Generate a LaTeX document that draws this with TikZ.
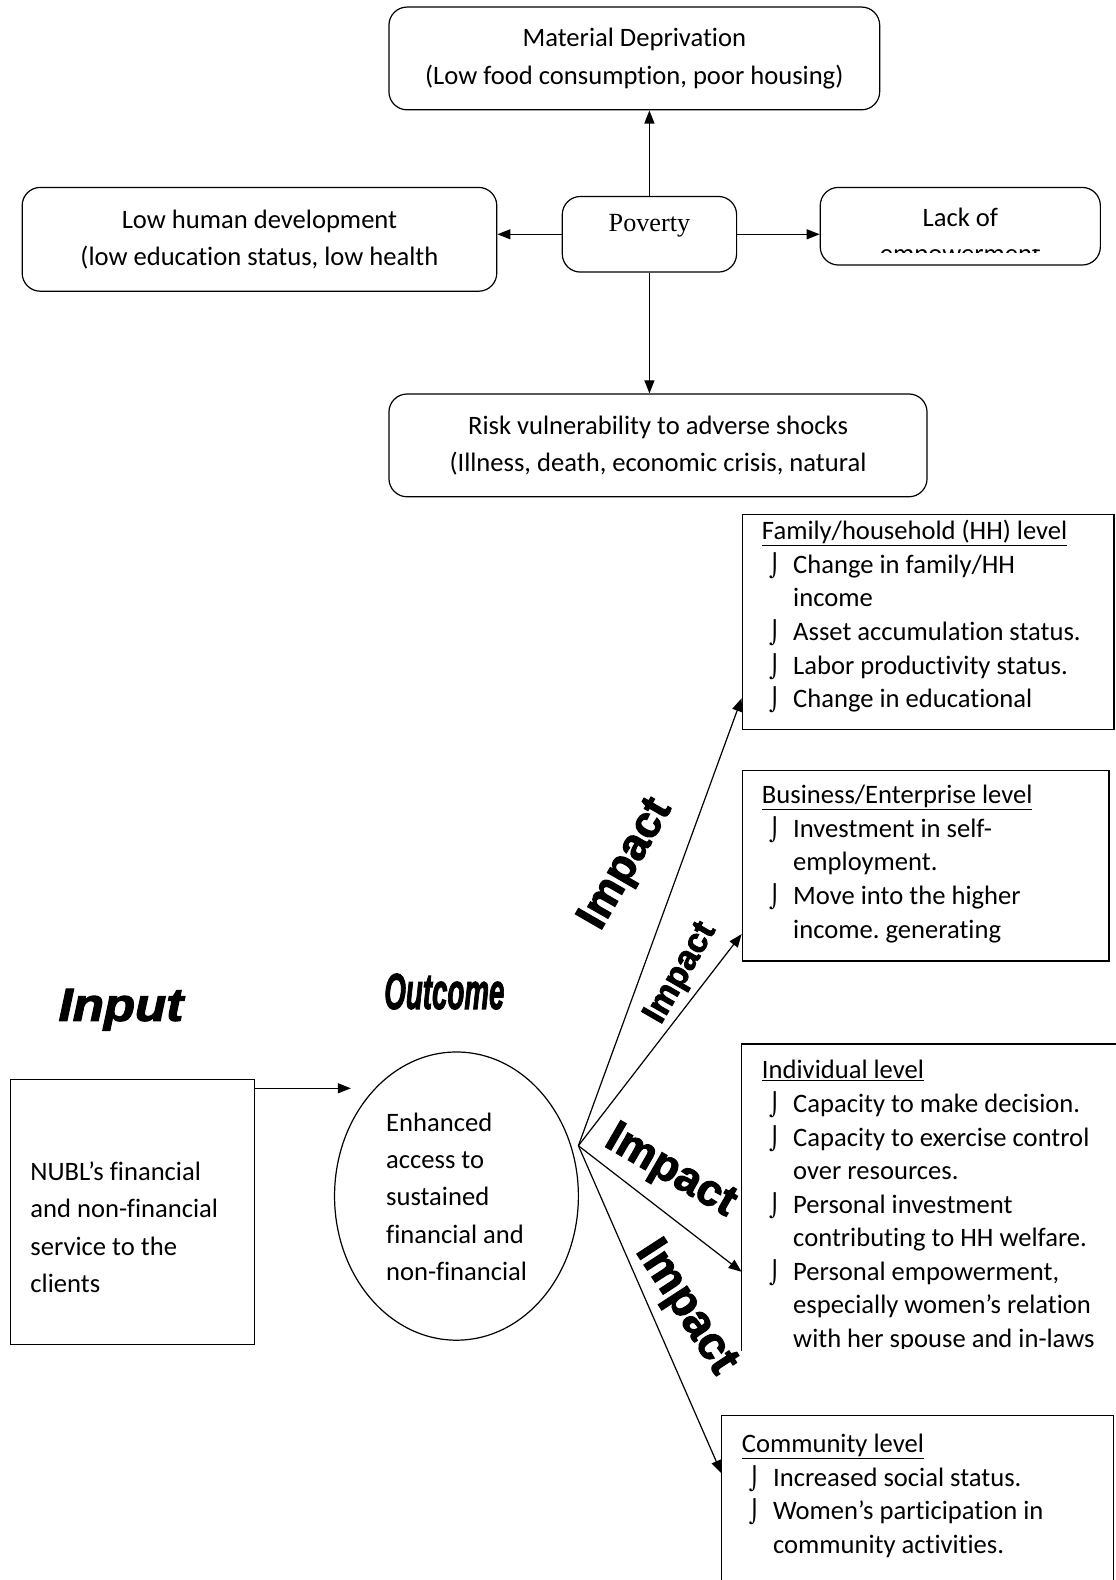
\documentclass[tikz,border=0pt]{standalone}
\usepackage{fontspec}
\setmainfont{Carlito}[Ligatures={NoCommon,NoContextual}]
\newfontfamily\timesf{Liberation Serif}
\newfontfamily\impf{Liberation Sans}[BoldFeatures={FakeBold=2.5}, BoldItalicFeatures={FakeBold=2.5}]
\newfontfamily\dvs{DejaVu Sans}
\usetikzlibrary{arrows.meta,shapes.geometric,calc}
\frenchspacing
\newcommand\tstrut{\rule{0pt}{22pt}}
\newcommand\bulitem{\hspace*{7pt}\makebox[24pt][l]{\dvs\fontsize{22}{22}\selectfont ⌡}}
\newcommand\contind{\hspace*{31pt}}
\tikzset{
  rbox/.style={draw, rounded corners=18pt, line width=1.2pt, inner sep=0pt, align=center, font=\fontsize{26.4}{37}\selectfont},
  sbox/.style={draw, line width=1.2pt, inner sep=0pt, anchor=north west},
  nbox/.style={inner sep=0pt, anchor=north west},
  txt/.style={inner sep=0pt, anchor=north west, align=left, font=\fontsize{26.4}{33.3}\selectfont},
  txtw/.style={inner sep=0pt, anchor=north west, align=left, font=\fontsize{26.4}{37}\selectfont},
  arr/.style={-{Triangle[length=13pt,width=10pt]}, line width=1.2pt},
  ln/.style={line width=1.2pt},
  imp/.style={inner sep=0pt, font=\impf\bfseries\fontsize{44}{44}\selectfont},
}
\begin{document}
\begin{tikzpicture}[x=1pt,y=-1pt]
\useasboundingbox (0,0) rectangle (1107,1568);
% top part
\node[rbox, minimum width=487pt, minimum height=102pt] (mat) at (629.5,58) {Material Deprivation\\(Low food consumption, poor housing)};
\node[rbox, minimum width=471pt, minimum height=103pt] (low) at (257.5,237.5) {Low human development\\(low education status, low health};
\node[rbox, minimum width=173pt, minimum height=75pt] (pov) at (644.5,232.5) {};
\node[inner sep=0pt, font=\timesf\fontsize{26}{26}\selectfont] (povt) at (644.5,224) {Poverty};
\node[rbox, minimum width=278pt, minimum height=77pt] (lack) at (953,224.5) {};
\node[inner sep=0pt, font=\fontsize{26.4}{30}\selectfont] (lackt) at (953,216) {Lack of};
\begin{scope}
\clip (830,247.5) rectangle (1080,251);
\node[inner sep=0pt, anchor=base, font=\fontsize{26.4}{30}\selectfont] (lackb) at (953,260.5) {empowerment};
\end{scope}
\node[rbox, minimum width=534pt, minimum height=102pt] (risk) at (653,442) {Risk vulnerability to adverse shocks\\(Illness, death, economic crisis, natural};

\draw[arr] (pov.north) -- (pov.north |- mat.south);
\draw[arr] (pov.south) -- (pov.south |- risk.north);
\draw[arr] (pov.west) -- (pov.west -| low.east);
\draw[arr] (pov.east) -- (pov.east -| lack.west);

% impact boxes
\node[sbox, minimum width=369pt, minimum height=213pt] (fam) at (736,510) {};
\node[txt] (famt) at (756,513.5) {\tstrut\underline{Family/household (HH) level}\\
\bulitem Change in family/HH\\
\contind income\\
\bulitem Asset accumulation status.\\
\bulitem Labor productivity status.\\
\bulitem Change in educational};

\node[sbox, minimum width=364pt, minimum height=189pt] (bus) at (736,764) {};
\node[txt] (bust) at (756,775.5) {\tstrut\underline{Business/Enterprise level}\\
\bulitem Investment in self-\\
\contind employment.\\
\bulitem Move into the higher\\
\contind income. generating};

\node[nbox, minimum width=371pt, minimum height=304pt] (ind) at (736,1036) {};
\draw[ln] (ind.north east) -- (ind.north west) -- (ind.south west);
\begin{scope}
\clip (736,1036) rectangle (1107,1338);
\node[txt] (indt) at (756,1048.5) {\tstrut\underline{Individual level}\\
\bulitem Capacity to make decision.\\
\bulitem Capacity to exercise control\\
\contind over resources.\\
\bulitem Personal investment\\
\contind contributing to HH welfare.\\
\bulitem Personal empowerment,\\
\contind especially women’s relation\\
\contind with her spouse and in-laws};
\end{scope}

\node[nbox, minimum width=389pt, minimum height=163pt] (com) at (716,1405) {};
\draw[ln] (com.south west) -- (com.north west) -- (com.north east) -- (com.south east);
\node[txt] (comt) at (736,1419.5) {\tstrut\underline{Community level}\\
\bulitem Increased social status.\\
\bulitem Women’s participation in\\
\contind community activities.};

% input / outcome
\node[sbox, minimum width=242pt, minimum height=263pt] (inp) at (10,1071) {};
\node[txtw] (inpt) at (30,1149.5) {\tstrut NUBL’s financial\\and non-financial\\service to the\\clients};
\node[draw, ellipse, line width=1.2pt, minimum width=242pt, minimum height=286pt, inner sep=0pt] (outc) at (453,1187) {};
\node[txtw] (outct) at (383,1100.5) {\tstrut Enhanced\\access to\\sustained\\financial and\\non-financial};
\draw[arr] ([yshift=-9pt]inp.north east) -- ++(95,0);

\node[inner sep=0pt, font=\impf\bfseries\itshape\fontsize{46}{46}\selectfont] (inlab) at (120,1002) {\scalebox{1.1}[1]{Input}};
\node[inner sep=0pt, font=\impf\bfseries\itshape\fontsize{50}{50}\selectfont] (outlab) at (441,984) {\scalebox{0.55}[1]{Outcome}};

\coordinate (hub) at (574,1137);
\draw[arr] (hub) -- ($(fam.south west)!0.146!(fam.north west)$);
\draw[arr] (hub) -- ($(bus.south west)!0.143!(bus.north west)$);
\draw[arr] (hub) -- ($(ind.south west)!0.257!(ind.north west)$);
\draw[arr] (hub) -- ($(com.south west)!0.65!(com.north west)$);

\node[imp, rotate=60] (i1) at (622,858) {Impact};
\node[imp, rotate=60, font=\impf\bfseries\fontsize{34}{34}\selectfont] (i2) at (676,966) {Impact};
\node[imp, rotate=-30] (i3) at (665,1163) {Impact};
\node[imp, rotate=-57, font=\impf\bfseries\fontsize{46}{46}\selectfont] (i4) at (680,1298) {Impact};
\end{tikzpicture}
\end{document}
